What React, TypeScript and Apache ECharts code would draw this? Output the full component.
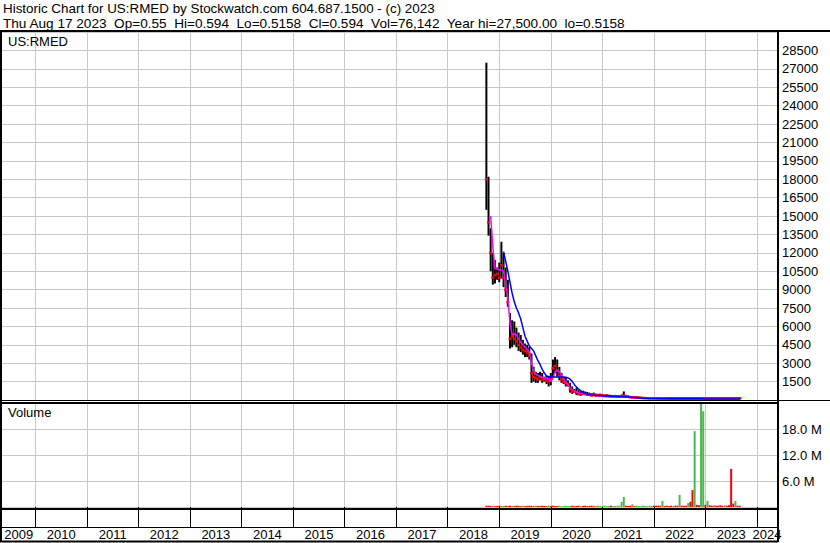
import React, { useEffect, useRef } from "react";
import * as echarts from "echarts";

// ---------- data ----------
const NB = "\u00a0";
const HEADER_1 = "Historic Chart for US:RMED by Stockwatch.com 604.687.1500 - (c) 2023";
const HEADER_2_PARTS = [
  "Thu Aug 17 2023",
  "Op=0.55",
  "Hi=0.594",
  "Lo=0.5158",
  "Cl=0.594",
  "Vol=76,142",
  "Year hi=27,500.00",
  "lo=0.5158",
];
const SYMBOL = "US:RMED";

const YEARS = [2009, 2010, 2011, 2012, 2013, 2014, 2015, 2016, 2017, 2018, 2019, 2020, 2021, 2022, 2023, 2024];
const X_MIN = 2009.35;
const X_MAX = 2024.39;

// half-month sampling starting Oct 2018
const START_YEAR = 2018.75;
const STEP = 1 / 24;

const high = [
  27500, 18200, 14000, 12000, 11400, 10800, 11200, 12900, 12000, 10800,
  9800, 7100, 6500, 6400, 5900, 5500, 5300, 4900, 4600, 4500,
  4300, 3800, 2700, 2300, 2200, 2300, 2200, 1900, 2000, 1900,
  2200, 3300, 3500, 3300, 2700, 2200, 1900, 1800, 1600, 1400,
  1100, 900, 1000, 800, 700, 750, 700, 650, 600, 550,
  600, 520, 500, 520, 480, 450, 470, 430, 420, 400,
  420, 400, 380, 450, 700, 420, 360, 330, 310, 290,
  300, 280, 260, 240, 230, 220, 210, 200, 190, 180,
  170, 180, 190, 160, 150, 140, 130, 120, 115, 110,
  120, 110, 100, 95, 90, 100, 110, 95, 85, 80,
  90, 85, 75, 70, 65, 60, 55, 50, 48, 45,
  42, 40, 38, 50, 40, 35, 30, 28, 25,
];
const low = [
  15500, 13400, 10500, 9400, 9500, 9800, 9600, 9900, 9200, 8400,
  7600, 4200, 4300, 4500, 4300, 4000, 3900, 3700, 3500, 3500,
  3300, 1400, 1500, 1400, 1400, 1600, 1400, 1500, 1300, 1100,
  1200, 1900, 2200, 1900, 1600, 1400, 1300, 1100, 1100, 600,
  500, 600, 400, 400, 350, 400, 400, 350, 350, 300,
  350, 320, 330, 340, 320, 300, 300, 290, 280, 270,
  270, 260, 250, 260, 300, 250, 230, 200, 180, 170,
  170, 160, 150, 140, 130, 130, 120, 110, 105, 100,
  95, 100, 100, 95, 90, 85, 80, 70, 65, 60,
  60, 60, 55, 50, 45, 45, 50, 45, 40, 35,
  35, 30, 30, 28, 25, 22, 20, 18, 15, 12,
  10, 8, 6, 5, 4, 3, 2, 1, 0.5158,
];
const close = [
  18000, 14500, 12000, 10000, 10200, 10300, 10000, 11000, 10000, 9000,
  8000, 5000, 5200, 5000, 4800, 4500, 4300, 4100, 4000, 3900,
  3700, 2200, 1900, 1800, 1700, 1900, 1700, 1700, 1600, 1500,
  1700, 2600, 2800, 2400, 2000, 1700, 1500, 1400, 1300, 900,
  700, 700, 600, 500, 500, 550, 500, 450, 450, 400,
  450, 400, 400, 420, 380, 350, 360, 340, 330, 320,
  330, 310, 300, 320, 380, 300, 280, 250, 230, 220,
  220, 200, 190, 180, 170, 165, 160, 150, 145, 140,
  130, 140, 140, 120, 115, 110, 100, 95, 90, 85,
  90, 85, 75, 70, 65, 70, 80, 70, 60, 55,
  60, 55, 50, 45, 40, 38, 35, 32, 30, 27,
  25, 22, 20, 25, 18, 15, 10, 5, 0.594,
];
// short moving average (magenta)
const maShort = [
  null, null, 15000, 12500, 10700, 10700, 10600, 10600, 10500, 9400,
  8300, 6300, 5300, 5400, 5300, 5000, 4700, 4500, 4300, 4100,
  3900, 3000, 2400, 2100, 2000, 1900, 1850, 1800, 1800, 1700,
  1500, 1800, 2300, 2450, 2300, 2000, 1700, 1450, 1200, 1000,
  850, 750, 650, 580, 530, 500, 460, 430, 400, 380,
  360, 350, 340, 330, 310, 290, 270, 260, 250, 240,
  235, 230, 230, 240, 260, 255, 240, 220, 200, 190,
  180, 170, 165, 160, 150, 145, 140, 135, 130, 125,
  120, 120, 120, 115, 110, 105, 100, 95, 90, 85,
  85, 82, 78, 74, 70, 70, 72, 70, 65, 62,
  60, 58, 55, 50, 47, 44, 41, 38, 35, 32,
  30, 28, 26, 25, 23, 20, 16, 12, 8,
];
// long moving average (blue)
const maLong = [
  null, null, null, null, null, null, null, null, 12100, 11300,
  10500, 9600, 8700, 8000, 7500, 7100, 6600, 5900, 5200, 4800,
  4400, 4200, 4000, 3600, 3200, 2900, 2500, 2200, 1950, 1900,
  1900, 1880, 1880, 1880, 1880, 1880, 1870, 1850, 1800, 1700,
  1500, 1250, 1050, 880, 750, 620, 550, 480, 430, 400,
  380, 370, 360, 350, 340, 335, 330, 320, 310, 300,
  290, 280, 270, 260, 250, 245, 240, 235, 220, 200,
  185, 170, 160, 150, 140, 135, 130, 125, 120, 115,
  110, 110, 110, 108, 106, 104, 102, 100, 100, 100,
  98, 98, 96, 96, 95, 95, 94, 94, 93, 92,
  92, 91, 90, 90, 89, 88, 88, 87, 86, 86,
  85, 85, 84, 84, 83, 83, 82, 82, 81,
];
// volume in millions of shares
const volume = [
  0.3, 0.3, 0.25, 0.3, 0.2, 0.25, 0.3, 0.2, 0.25, 0.3,
  0.2, 0.3, 0.25, 0.2, 0.3, 0.25, 0.2, 0.3, 0.2, 0.25,
  0.3, 0.25, 0.2, 0.3, 0.25, 0.2, 0.3, 0.25, 0.2, 0.3,
  0.25, 0.3, 0.2, 0.25, 0.3, 0.2, 0.25, 0.3, 0.2, 0.25,
  0.3, 0.2, 0.25, 0.3, 0.2, 0.25, 0.3, 0.2, 0.25, 0.3,
  0.2, 0.25, 0.3, 0.2, 0.25, 0.3, 0.2, 0.25, 0.3, 0.2,
  0.25, 0.3, 0.3, 1.2, 2.3, 0.3, 0.25, 0.3, 0.6, 0.25,
  0.3, 0.25, 0.2, 0.3, 0.25, 0.2, 0.3, 0.25, 0.3, 0.3,
  0.3, 0.3, 1.4, 0.25, 0.3, 0.2, 0.3, 0.25, 0.3, 0.3,
  2.8, 0.3, 0.3, 0.3, 0.9, 1.2, 3.9, 17.5, 0.5, 0.4,
  24.3, 22.1, 0.5, 1.4, 0.4, 0.3, 0.4, 0.3, 0.3, 0.4,
  0.3, 0.4, 0.3, 0.4, 8.8, 0.8, 1.4, 0.3, 0.3,
];
// g = up day (green), r = down day (red)
const volumeDirection =
  "rrrgrrrrgr" + "rrgrrrrgrr" + "rrrgrrrrrg" + "rrrrgggggg" + "rrrrgrrrrr" +
  "rgggggggrg" + "gggggrrrgr" + "ggggggggrr" + "rrgrrrrgrr" + "grrrgrrgrr" +
  "ggrgrrgrrr" + "rgrrrrgrr";

const PRICE_MAX = 30000;
const PRICE_STEP = 1500;
const VOL_MAX = 24;
const VOL_STEP = 6;

// ---------- styles ----------
const FONT = '"Liberation Sans", Arial, sans-serif';
const GRID_GRAY = "#c8c8c8";
const GREEN = "#4cb84c";
const RED = "#ff0000";

export default function App() {
  const ref = useRef<HTMLDivElement>(null);

  useEffect(() => {
    if (!ref.current) return;
    const chart = echarts.init(ref.current, undefined, { renderer: "svg" });

    const xOf = (i: number) => START_YEAR + i * STEP;
    const bars = high.map((h, i) => [xOf(i), h, low[i]]);
    const closes = close.map((c, i) => [xOf(i), c]);
    const shortLine = maShort.map((v, i) => [xOf(i), v]).filter((d) => d[1] !== null);
    const longLine = maLong.map((v, i) => [xOf(i), v]).filter((d) => d[1] !== null);
    const vols = volume.map((v, i) => ({
      value: [xOf(i), v],
      itemStyle: { color: volumeDirection[i] === "g" ? GREEN : RED },
    }));

    const yearTicks = YEARS.filter((y) => y > X_MIN && y < X_MAX);
    const yearLabelPos = YEARS.map((y) => (Math.max(y, X_MIN) + Math.min(y + 1, X_MAX)) / 2);
    const header2 = HEADER_2_PARTS.join(NB + " ");

    const W = 830;
    const AX = 778; // right axis line

    const line = (x1: number, y1: number, x2: number, y2: number, w: number) => ({
      type: "line",
      silent: true,
      z: 100,
      shape: { x1, y1, x2, y2 },
      style: { stroke: "#000", lineWidth: w },
    });
    const text = (x: number, y: number, t: string, size = 13) => ({
      type: "text",
      silent: true,
      z: 100,
      x,
      y,
      style: { text: t, fill: "#000", font: `${size}px ${FONT}`, align: "left", verticalAlign: "top" },
    });

    chart.setOption({
      animation: false,
      backgroundColor: "#fff",
      grid: [
        { left: 2, right: W - 777, top: 32, height: 368 },
        { left: 2, right: W - 777, top: 403, height: 104 },
      ],
      xAxis: [
        {
          type: "value",
          gridIndex: 0,
          min: X_MIN,
          max: X_MAX,
          axisLine: { show: false },
          axisTick: { show: false, customValues: yearTicks },
          axisLabel: { show: false },
          splitLine: { show: true, lineStyle: { color: GRID_GRAY, width: 1 } },
        },
        {
          type: "value",
          gridIndex: 1,
          min: X_MIN,
          max: X_MAX,
          axisLine: { show: false },
          axisTick: {
            show: true,
            customValues: yearTicks,
            length: 20,
            lineStyle: { color: "#000", width: 1 },
          },
          axisLabel: {
            show: true,
            customValues: yearLabelPos,
            formatter: (v: number) => String(Math.floor(v)),
            margin: 21,
            fontSize: 13,
            fontFamily: FONT,
            color: "#000",
          },
          splitLine: { show: true, lineStyle: { color: GRID_GRAY, width: 1 } },
        },
      ],
      yAxis: [
        {
          type: "value",
          gridIndex: 0,
          position: "right",
          min: 0,
          max: PRICE_MAX,
          interval: PRICE_STEP,
          axisLine: { show: false },
          axisTick: { show: false },
          axisLabel: {
            margin: 5,
            fontSize: 13,
            fontFamily: FONT,
            color: "#000",
            formatter: (v: number) => (v === 0 || v === PRICE_MAX ? "" : String(v)),
          },
          splitLine: { show: true, lineStyle: { color: GRID_GRAY, width: 1 } },
        },
        {
          type: "value",
          gridIndex: 1,
          position: "right",
          min: 0,
          max: VOL_MAX,
          interval: VOL_STEP,
          axisLine: { show: false },
          axisTick: { show: false },
          axisLabel: {
            margin: 5,
            fontSize: 13,
            fontFamily: FONT,
            color: "#000",
            formatter: (v: number) => (v === 0 || v === VOL_MAX ? "" : v.toFixed(1) + " M"),
          },
          splitLine: { show: true, lineStyle: { color: GRID_GRAY, width: 1 } },
        },
      ],
      series: [
        {
          type: "custom",
          xAxisIndex: 0,
          yAxisIndex: 0,
          data: bars,
          encode: { x: 0, y: [1, 2] },
          renderItem: (params: any, api: any) => {
            const x = api.value(0);
            const top = api.coord([x, api.value(1)]);
            const bot = api.coord([x, api.value(2)]);
            return {
              type: "line",
              shape: { x1: top[0], y1: top[1], x2: bot[0], y2: Math.max(bot[1], top[1] + 1) },
              style: { stroke: "#000", lineWidth: 2 },
            };
          },
        },
        {
          type: "custom",
          xAxisIndex: 0,
          yAxisIndex: 0,
          data: closes,
          encode: { x: 0, y: 1 },
          renderItem: (params: any, api: any) => {
            const p = api.coord([api.value(0), api.value(1)]);
            return {
              type: "rect",
              shape: { x: p[0] - 1.5, y: Math.min(p[1] - 1, 397), width: 3, height: 2.5 },
              style: { fill: RED },
            };
          },
        },
        {
          type: "line",
          xAxisIndex: 0,
          yAxisIndex: 0,
          data: shortLine,
          showSymbol: false,
          symbol: "none",
          lineStyle: { color: "#ff00ff", width: 1.5 },
        },
        {
          type: "line",
          xAxisIndex: 0,
          yAxisIndex: 0,
          data: longLine,
          showSymbol: false,
          symbol: "none",
          lineStyle: { color: "#0000ff", width: 1.5 },
        },
        {
          type: "bar",
          xAxisIndex: 1,
          yAxisIndex: 1,
          data: vols,
          barWidth: 2,
          barGap: "-100%",
        },
      ],
      graphic: [
        text(3, 2, HEADER_1, 13.4),
        text(3, 16, header2, 13.6),
        text(8, 35, SYMBOL),
        text(8, 406, "Volume"),
        line(0, 31, W, 31, 2),
        line(1, 31, 1, 542, 2),
        line(AX, 31, AX, 542, 2),
        line(0, 400.5, W, 400.5, 1),
        line(0, 403, AX, 403, 2),
        line(0, 509, AX, 509, 2),
        line(0, 527.5, AX, 527.5, 1),
        line(0, 541.5, AX, 541.5, 2),
      ],
    });

    return () => chart.dispose();
  }, []);

  return (
    <div
      ref={ref}
      style={{ position: "absolute", left: 0, top: 0, width: 830, height: 543, background: "#fff" }}
    />
  );
}
